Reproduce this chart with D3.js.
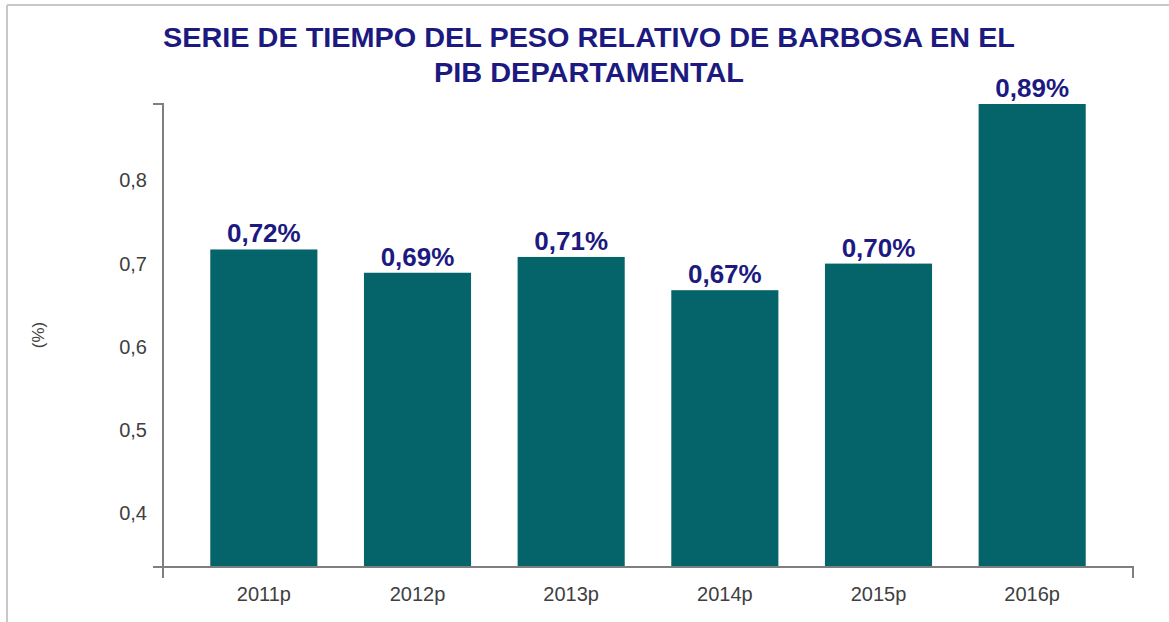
<!DOCTYPE html>
<html>
<head>
<meta charset="utf-8">
<script src="https://cdn.jsdelivr.net/npm/d3@7"></script>
<style>
  body { margin: 0; background: #fff; }
  svg { display: block; }
</style>
</head>
<body>
<div id="chart"></div>
<script>
// Data
const years = ["2011p", "2012p", "2013p", "2014p", "2015p", "2016p"];
const weights = [0.717, 0.689, 0.708, 0.668, 0.700, 0.892];
const valueLabels = ["0,72%", "0,69%", "0,71%", "0,67%", "0,70%", "0,89%"];
const yTicks = [0.4, 0.5, 0.6, 0.7, 0.8];
const titleLines = ["SERIE DE TIEMPO DEL PESO RELATIVO DE BARBOSA EN EL", "PIB DEPARTAMENTAL"];
const titleWidths = [852, 310];

const W = 1169, H = 622;
const axisLeft = 163, axisRight = 1133, axisTop = 104, axisBottom = 567;

const svg = d3.select("#chart")
  .append("svg")
  .attr("width", W)
  .attr("height", H);

// frame
svg.append("line").attr("x1", 7).attr("x2", W).attr("y1", 5).attr("y2", 5)
  .attr("stroke", "#c8c8c8").attr("stroke-width", 2);
svg.append("line").attr("x1", 7).attr("x2", 7).attr("y1", 5).attr("y2", H)
  .attr("stroke", "#c8c8c8").attr("stroke-width", 2);

// title
svg.append("g").selectAll("text")
  .data(titleLines)
  .join("text")
  .attr("x", 589)
  .attr("y", (d, i) => 47 + i * 35)
  .attr("text-anchor", "middle")
  .attr("textLength", (d, i) => titleWidths[i])
  .attr("lengthAdjust", "spacingAndGlyphs")
  .attr("font-family", "Liberation Sans, Arial, sans-serif")
  .attr("font-weight", "bold")
  .attr("font-size", 28)
  .attr("fill", "#1c1a80")
  .text(d => d);

// scales
const x = d3.scaleBand()
  .domain(years)
  .range([axisLeft + 24, axisRight - 24])
  .paddingInner(0.303)
  .paddingOuter(0.1515);

const y = d3.scaleLinear()
  .domain([0.335, 0.892])
  .range([axisBottom, axisTop]);

// bars
svg.append("g").selectAll("rect")
  .data(years)
  .join("rect")
  .attr("x", d => x(d))
  .attr("y", (d, i) => y(weights[i]))
  .attr("width", x.bandwidth())
  .attr("height", (d, i) => axisBottom - y(weights[i]))
  .attr("fill", "#04646a");

// value labels
svg.append("g").selectAll("text")
  .data(years)
  .join("text")
  .attr("x", d => x(d) + x.bandwidth() / 2)
  .attr("y", (d, i) => y(weights[i]) - 7)
  .attr("text-anchor", "middle")
  .attr("font-family", "Liberation Sans, Arial, sans-serif")
  .attr("font-weight", "bold")
  .attr("font-size", 26)
  .attr("fill", "#1c1a80")
  .text((d, i) => valueLabels[i]);

// y axis
const yAxis = d3.axisLeft(y)
  .tickValues(yTicks)
  .tickSize(0)
  .tickPadding(16)
  .tickFormat(d => d3.format(".1f")(d).replace(".", ","));

const gy = svg.append("g")
  .attr("transform", "translate(" + axisLeft + ",0)")
  .call(yAxis);
gy.select(".domain").remove();
gy.selectAll("text")
  .attr("font-family", "Liberation Sans, Arial, sans-serif")
  .attr("font-size", 20)
  .attr("fill", "#404040");

// x axis
const xAxis = d3.axisBottom(x)
  .tickSize(0)
  .tickPadding(20);

const gx = svg.append("g")
  .attr("transform", "translate(0," + axisBottom + ")")
  .call(xAxis);
gx.select(".domain").remove();
gx.selectAll("text")
  .attr("font-family", "Liberation Sans, Arial, sans-serif")
  .attr("font-size", 20)
  .attr("fill", "#404040");

// axis lines with end ticks
const axisColor = "#7f7f7f";
svg.append("path")
  .attr("d", "M" + (axisLeft - 10) + "," + axisTop + "H" + axisLeft + "V" + (axisBottom + 11))
  .attr("fill", "none").attr("stroke", axisColor).attr("stroke-width", 2);
svg.append("path")
  .attr("d", "M" + (axisLeft - 10) + "," + axisBottom + "H" + axisRight + "V" + (axisBottom + 11))
  .attr("fill", "none").attr("stroke", axisColor).attr("stroke-width", 2);

// y axis title
svg.append("text")
  .attr("transform", "translate(38,335) rotate(-90)")
  .attr("text-anchor", "middle")
  .attr("dy", "0.35em")
  .attr("font-family", "Liberation Sans, Arial, sans-serif")
  .attr("font-size", 17)
  .attr("fill", "#404040")
  .text("(%)");
</script>
</body>
</html>
